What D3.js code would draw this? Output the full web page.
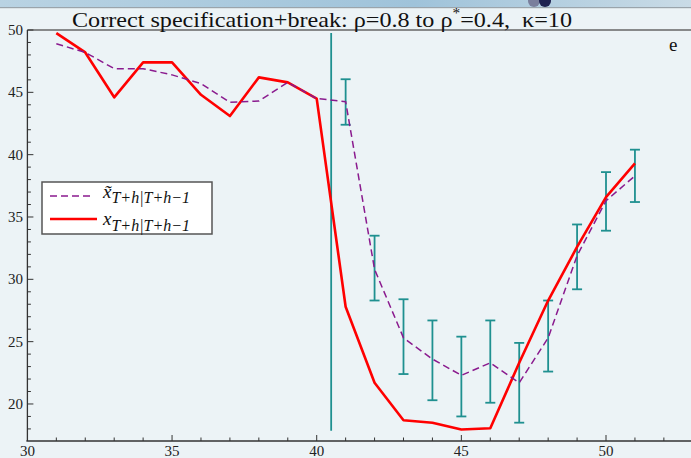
<!DOCTYPE html>
<html><head><meta charset="utf-8">
<script src="https://cdn.jsdelivr.net/npm/d3@7"></script>
<style>html,body{margin:0;padding:0;background:#ecf3f6;}svg{display:block;} text{font-family:"Liberation Serif","DejaVu Serif","Times New Roman",Times,serif;}</style>
</head><body>
<svg id="c" width="691" height="458"></svg>
<script>
const periods = [31,32,33,34,35,36,37,38,39,40,41,42,43,44,45,46,47,48,49,50,51];
const actual = [49.75,48.2,44.6,47.4,47.4,44.8,43.1,46.2,45.8,44.5,27.8,21.7,18.7,18.5,17.95,18.05,23.3,28.3,32.6,36.6,39.3];
const forecast = [48.9,48.2,46.9,46.9,46.4,45.7,44.2,44.3,45.8,44.5,44.25,30.8,25.3,23.6,22.3,23.3,21.7,25.3,31.9,36.3,38.3];
const barX = [41,42,43,44,45,46,47,48,49,50,51];
const barLo = [42.4,28.3,22.4,20.3,19.0,20.1,18.5,22.6,29.2,33.9,36.2];
const barHi = [46.05,33.5,28.4,26.7,25.4,26.7,24.9,28.3,34.4,38.6,40.4];
const breakX = 40.5, breakLo = 17.85, breakHi = 49.75;
const xTicks = [30,35,40,45,50];
const yTicks = [20,25,30,35,40,45,50];

const svg = d3.select("#c");
const x = d3.scaleLinear().domain([30,53]).range([27.4,692.8]);
const y = d3.scaleLinear().domain([17.03,50]).range([441,30]);

// top slide strip
const g0 = svg.append("defs").append("linearGradient").attr("id","strip").attr("x1",0).attr("x2",1);
g0.append("stop").attr("offset","0").attr("stop-color","#b9d3e3");
g0.append("stop").attr("offset","0.6").attr("stop-color","#9fc3da");
g0.append("stop").attr("offset","1").attr("stop-color","#c9dbe6");
svg.append("rect").attr("x",0).attr("y",0).attr("width",691).attr("height",7).attr("fill","url(#strip)");
svg.append("rect").attr("x",0).attr("y",7).attr("width",691).attr("height",1.2).attr("fill","#9aa4ab");
svg.append("circle").attr("cx",534).attr("cy",1).attr("r",6).attr("fill","#7a7f9c");
svg.append("circle").attr("cx",545).attr("cy",1).attr("r",6).attr("fill","#1e2250");

// frame top line
svg.append("line").attr("x1",x(30)).attr("x2",691).attr("y1",y(50)).attr("y2",y(50)).attr("stroke","#666").attr("stroke-width",1.5);

// axes
const ax = svg.append("g");
ax.append("line").attr("x1",x(30)).attr("x2",x(30)).attr("y1",y(50)).attr("y2",y(17.03)).attr("stroke","#333").attr("stroke-width",1.3);
d3.range(18,51).forEach(v=>{
  const major = v%5===0;
  ax.append("line").attr("x1",x(30)).attr("x2",x(30)+(major?6:3.5)).attr("y1",y(v)).attr("y2",y(v)).attr("stroke","#333").attr("stroke-width",1);
});
yTicks.forEach(v=>{
  ax.append("text").attr("x",23).attr("y",y(v)+5).attr("text-anchor","end").style("font-size","15px").attr("fill","#222").text(v);
});
ax.append("line").attr("x1",x(30)-1).attr("x2",691).attr("y1",y(17.03)).attr("y2",y(17.03)).attr("stroke","#333").attr("stroke-width",1.3);
d3.range(31,54).forEach(v=>{
  const major = v%5===0;
  ax.append("line").attr("x1",x(v)).attr("x2",x(v)).attr("y1",y(17.03)).attr("y2",y(17.03)-(major?6:3.5)).attr("stroke","#333").attr("stroke-width",1);
});
xTicks.forEach(v=>{
  ax.append("text").attr("x",x(v)).attr("y",456).attr("text-anchor","middle").style("font-size","15px").attr("fill","#222").text(v);
});

// break line
svg.append("line").attr("x1",x(breakX)).attr("x2",x(breakX)).attr("y1",y(breakHi)).attr("y2",y(breakLo)).attr("stroke","#1f9090").attr("stroke-width",1.8);

// error bars
const eb = svg.append("g").attr("stroke","#1f9090").attr("stroke-width",1.8);
barX.forEach((v,i)=>{
  eb.append("line").attr("x1",x(v)).attr("x2",x(v)).attr("y1",y(barLo[i])).attr("y2",y(barHi[i]));
  eb.append("line").attr("x1",x(v)-5).attr("x2",x(v)+5).attr("y1",y(barLo[i])).attr("y2",y(barLo[i]));
  eb.append("line").attr("x1",x(v)-5).attr("x2",x(v)+5).attr("y1",y(barHi[i])).attr("y2",y(barHi[i]));
});

const line = d3.line().x(d=>x(d[0])).y(d=>y(d[1]));
svg.append("path").datum(periods.map((p,i)=>[p,actual[i]])).attr("d",line).attr("fill","none").attr("stroke","#ff0000").attr("stroke-width",2.6).attr("stroke-linejoin","round");
svg.append("path").datum(periods.map((p,i)=>[p,forecast[i]])).attr("d",line).attr("fill","none").attr("stroke","#8a1a8e").attr("stroke-width",1.5).attr("stroke-dasharray","7,4");

// title
const t = svg.append("text").attr("x",72).attr("y",27).style("font-size","22px").attr("fill","#111")
  .attr("textLength",500).attr("lengthAdjust","spacingAndGlyphs");
t.append("tspan").text("Correct specification+break: ρ=0.8 to ρ");
t.append("tspan").attr("dy",-9).style("font-size","14px").text("*");
t.append("tspan").attr("dy",9).text("=0.4,\u00a0 κ=10");
svg.append("text").attr("x",669).attr("y",51).style("font-size","19px").attr("fill","#111").text("e");

// legend
const lg = svg.append("g");
lg.append("rect").attr("x",42).attr("y",182).attr("width",170).attr("height",52).attr("fill","#fff").attr("stroke","#555").attr("stroke-width",1.5);
lg.append("line").attr("x1",50).attr("x2",93).attr("y1",196).attr("y2",196).attr("stroke","#8a1a8e").attr("stroke-width",1.5).attr("stroke-dasharray","7,4");
lg.append("line").attr("x1",50).attr("x2",97).attr("y1",219).attr("y2",219).attr("stroke","#ff0000").attr("stroke-width",2.6);
const l1 = lg.append("text").attr("x",103).attr("y",198).style("font-style","italic").style("font-size","19px").attr("fill","#111");
l1.append("tspan").text("x\u0303");
l1.append("tspan").attr("dy",5).style("font-size","16px").text("T+h|T+h\u22121");
const l2 = lg.append("text").attr("x",103).attr("y",225).style("font-style","italic").style("font-size","19px").attr("fill","#111");
l2.append("tspan").text("x");
l2.append("tspan").attr("dy",6).style("font-size","16px").text("T+h|T+h\u22121");
</script>
</body></html>
